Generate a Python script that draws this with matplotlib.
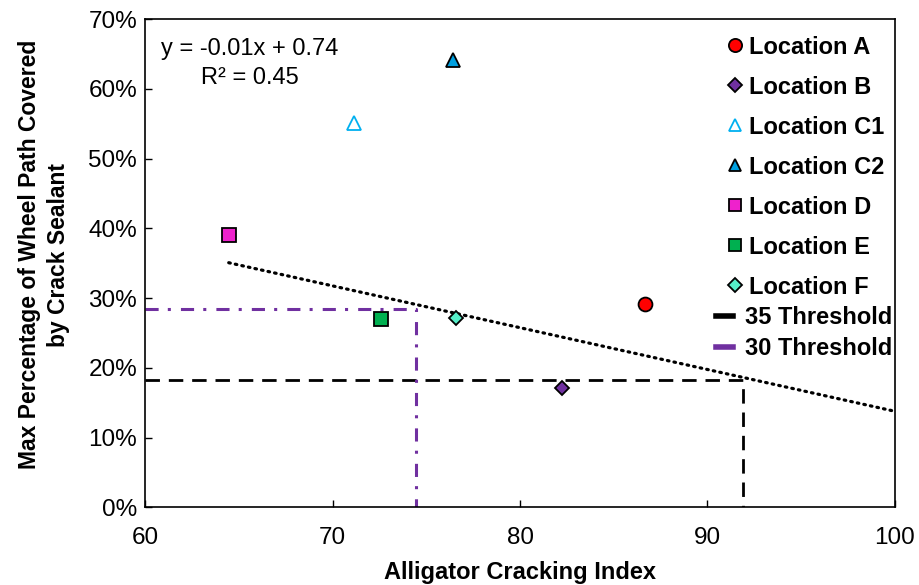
import numpy as np
import matplotlib
matplotlib.use("Agg")
import matplotlib.pyplot as plt
from matplotlib.lines import Line2D
from matplotlib.ticker import PercentFormatter

plt.rcParams['font.family'] = ['Liberation Sans', 'DejaVu Sans']

# data
locations = ["Location A", "Location B", "Location C1", "Location C2",
             "Location D", "Location E", "Location F"]
aci = [86.67, 82.23, 71.12, 76.41, 64.45, 72.57, 76.57]
coverage = [0.291, 0.171, 0.551, 0.641, 0.390, 0.270, 0.271]
markers = ["o", "D", "^", "^", "s", "s", "D"]
faces = ["#FF0000", "#7030A0", "white", "#00A0E0", "#EE22CC", "#00B050", "#55EEC8"]
edges = ["black", "black", "#00B0F0", "black", "black", "black", "black"]
sizes = [10, 7.5, 9.5, 9.5, 9.5, 9.5, 7.5]

# trendline as drawn (label shows the rounded equation)
trend_slope = -0.00599
trend_intercept = 0.7367
trend_x = [64.45, 100]

# thresholds: (x, y) corner of the L shaped guide
thr35 = (91.92, 0.1825)
thr30 = (74.47, 0.284)

fig = plt.figure(figsize=(9.2, 5.85), dpi=100)
ax = fig.add_axes([0.158, 0.1328, 0.8145, 0.8347])

for i in range(len(locations)):
    ax.plot(aci[i], coverage[i], linestyle="none", marker=markers[i], ms=sizes[i],
            mfc=faces[i], mec=edges[i], mew=1.3, label=locations[i], zorder=5)

tx = np.array(trend_x)
ax.plot(tx, trend_slope * tx + trend_intercept, color="black", lw=2.3,
        linestyle=(0, (0.5, 1.6)), dash_capstyle="round", zorder=3)

ax.plot([60, thr35[0], thr35[0]], [thr35[1], thr35[1], 0], color="black", lw=2,
        linestyle=(0, (5.2, 3.2)), zorder=2)
ax.plot([60, thr30[0], thr30[0]], [thr30[1], thr30[1], 0], color="#7030A0", lw=2.2,
        linestyle=(0, (4.3, 3, 1, 3.3)), zorder=2)

ax.set_xlim(60, 100)
ax.set_ylim(0, 0.7)
ax.set_xticks([60, 70, 80, 90, 100])
ax.set_yticks(np.arange(0, 0.71, 0.1))
ax.yaxis.set_major_formatter(PercentFormatter(1.0, decimals=0))
ax.tick_params(direction="in", length=5, width=1, labelsize=17.5, top=False, right=False)
ax.tick_params(axis="x", pad=14.5)
ax.tick_params(axis="y", pad=6)
for s in ax.spines.values():
    s.set_linewidth(1.2)

ax.set_xlabel("Alligator Cracking Index", fontsize=17, fontweight="bold", labelpad=8)
ax.set_ylabel("Max Percentage of Wheel Path Covered\nby Crack Sealant",
              fontsize=16.5, fontweight="bold", linespacing=1.3)
ax.yaxis.set_label_coords(-0.101, 0.517)

ax.text(0.139, 0.9085, "y = -0.01x + 0.74\nR² = 0.45", transform=ax.transAxes,
        ha="center", va="center", fontsize=17, linespacing=1.4)

leg1 = ax.legend(loc="upper right", bbox_to_anchor=(1.0057, 0.995), frameon=False,
                 prop={"weight": "bold", "size": 17}, handlelength=0.6,
                 handletextpad=0.3, labelspacing=0.72, markerscale=0.95,
                 borderaxespad=0.2)
ax.add_artist(leg1)

thr_handles = [Line2D([], [], color="black", lw=4),
               Line2D([], [], color="#7030A0", lw=4)]
ax.legend(thr_handles, ["35 Threshold", "30 Threshold"], loc="upper right",
          bbox_to_anchor=(0.9963, 0.4115), frameon=False,
          prop={"weight": "bold", "size": 17}, handlelength=0.7,
          handletextpad=0.5, labelspacing=0.34, borderaxespad=0.0, borderpad=0.0)

fig.savefig("out.png", dpi=100)
